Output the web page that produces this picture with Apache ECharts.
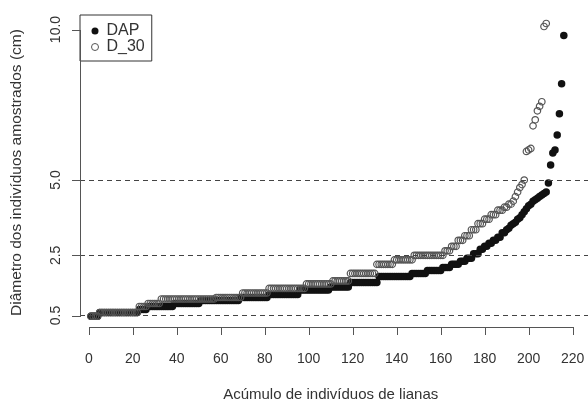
<!DOCTYPE html>
<html>
<head>
<meta charset="utf-8">
<script src="https://cdn.jsdelivr.net/npm/echarts@6/dist/echarts.min.js"></script>
<style>
html,body{margin:0;padding:0;background:#fff;}
#c{width:588px;height:403px;}
</style>
</head>
<body>
<div id="c"></div>
<script>
// ---- data ----
const xTicks = [0, 20, 40, 60, 80, 100, 120, 140, 160, 180, 200, 220];
const yTicks = [0.5, 2.5, 5.0, 10.0];
const yTickLabels = ["0.5", "2.5", "5.0", "10.0"];
const refLines = [0.5, 2.5, 5.0];
const seriesNames = ["DAP", "D_30"];
const xTitle = 'Acúmulo de indivíduos de lianas';
const yTitle = 'Diâmetro dos indivíduos amostrados (cm)';

// DAP: sorted diameters, individual 1..216
const dap = [
  0.48,0.48,0.48,0.48,
  0.6,0.6,0.6,0.6,0.6,0.6,0.6,0.6,0.6,0.6,0.6,0.6,0.6,0.6,0.6,0.6,0.6,0.6,
  0.7,0.7,0.7,0.7,
  0.8,0.8,0.8,0.8,0.8,0.8,0.8,0.8,0.8,0.8,0.8,0.8,
  0.9,0.9,0.9,0.9,0.9,0.9,0.9,0.9,0.9,0.9,0.9,0.9,
  1.0,1.0,1.0,1.0,1.0,1.0,1.0,1.0,1.0,1.0,1.0,1.0,1.0,1.0,1.0,1.0,1.0,1.0,
  1.1,1.1,1.1,1.1,1.1,1.1,1.1,1.1,1.1,1.1,1.1,1.1,1.1,
  1.2,1.2,1.2,1.2,1.2,1.2,1.2,1.2,1.2,1.2,1.2,1.2,1.2,1.2,
  1.35,1.35,1.35,1.35,1.35,1.35,1.35,1.35,1.35,1.35,1.35,1.35,1.35,1.35,
  1.45,1.45,1.45,1.45,1.45,1.45,1.45,1.45,1.45,
  1.6,1.6,1.6,1.6,1.6,1.6,1.6,1.6,1.6,1.6,1.6,1.6,1.6,
  1.8,1.8,1.8,1.8,1.8,1.8,1.8,1.8,1.8,1.8,1.8,1.8,1.8,1.8,1.8,
  1.9,1.9,1.9,1.9,1.9,1.9,1.9,
  2.0,2.0,2.0,2.0,2.0,2.0,2.0,
  2.1,2.1,2.1,2.1,
  2.2,2.2,2.2,2.2,
  2.3,2.3,2.3,
  2.4,2.4,2.4,
  2.55,2.55,2.55,
  2.7,2.7,
  2.8,2.8,
  2.9,2.9,
  3.0,3.0,
  3.1,3.1,
  3.25,3.25,
  3.35,3.4,3.5,3.55,3.6,3.7,3.75,3.85,3.95,4.05,4.15,4.2,4.3,4.35,4.4,4.45,4.5,4.55,4.6,
  4.9,5.5,5.9,6.0,6.5,7.2,8.2,9.8
];

// D_30: sorted diameters at 30 cm, individual 1..208
const d30 = [
  0.48,0.48,0.48,0.48,
  0.6,0.6,0.6,0.6,0.6,0.6,0.6,0.6,0.6,0.6,0.6,0.6,0.6,0.6,0.6,0.6,0.6,0.6,
  0.8,0.8,0.8,0.8,
  0.9,0.9,0.9,0.9,0.9,0.9,
  1.05,1.05,1.05,1.05,1.05,1.05,1.05,1.05,1.05,1.05,1.05,1.05,1.05,1.05,1.05,1.05,1.05,1.05,1.05,1.05,1.05,1.05,1.05,1.05,1.05,
  1.1,1.1,1.1,1.1,1.1,1.1,1.1,1.1,1.1,1.1,1.1,1.1,
  1.25,1.25,1.25,1.25,1.25,1.25,1.25,1.25,1.25,1.25,1.25,1.25,
  1.4,1.4,1.4,1.4,1.4,1.4,1.4,1.4,1.4,1.4,1.4,1.4,1.4,1.4,1.4,1.4,1.4,
  1.55,1.55,1.55,1.55,1.55,1.55,1.55,1.55,1.55,1.55,1.55,1.55,
  1.65,1.65,1.65,1.65,1.65,1.65,1.65,1.65,
  1.9,1.9,1.9,1.9,1.9,1.9,1.9,1.9,1.9,1.9,1.9,1.9,
  2.2,2.2,2.2,2.2,2.2,2.2,2.2,2.2,
  2.35,2.35,2.35,2.35,2.35,2.35,2.35,2.35,2.35,
  2.5,2.5,2.5,2.5,2.5,2.5,2.5,2.5,2.5,2.5,2.5,2.5,2.5,2.5,
  2.65,2.65,2.65,
  2.8,2.8,2.8,
  3.0,3.0,3.0,
  3.15,3.15,3.15,
  3.35,3.35,3.35,
  3.55,3.55,3.55,
  3.7,3.7,3.7,
  3.85,3.85,3.85,
  4.0,4.0,4.0,
  4.1,4.1,
  4.2,4.2,
  4.3,4.45,4.6,4.75,
  4.85,5.0,5.95,6.0,6.05,6.8,7.0,7.3,7.45,7.6,10.1,10.2
];

// ---- chart ----
const X_MIN = -4, X_MAX = 227, Y_MIN = 0.12, Y_MAX = 10.98;
const W = 588, H = 403, GL = 80, GB = 76;
const pxX = (W - GL) / (X_MAX - X_MIN);
const pxY = (H - GB) / (Y_MAX - Y_MIN);
const txt = '#333';
const axisCol = '#555';
const font = 'Liberation Sans, Arial, Helvetica, sans-serif';

const toPts = arr => arr.map((v, i) => [i + 1, v]);

// secondary grids only carry the tick labels (R style: first..last tick)
const xGridLeft = GL + (xTicks[0] - X_MIN) * pxX;
const xGridWidth = (xTicks[xTicks.length - 1] - xTicks[0]) * pxX;
const yGridTop = (Y_MAX - yTicks[yTicks.length - 1]) * pxY;
const yGridHeight = (yTicks[yTicks.length - 1] - yTicks[0]) * pxY;

const chart = echarts.init(document.getElementById('c'), null, {renderer: 'canvas'});
chart.setOption({
  animation: false,
  backgroundColor: '#fff',
  grid: [
    {left: GL, right: 0, top: 0, bottom: GB, outerBoundsMode: 'none'},
    {left: xGridLeft, width: xGridWidth, bottom: GB, height: 20, outerBoundsMode: 'none'},
    {left: GL, width: 20, top: yGridTop, height: yGridHeight, outerBoundsMode: 'none'}
  ],
  legend: {
    left: 80, top: 15, orient: 'vertical',
    borderColor: '#333', borderWidth: 1,
    padding: [8, 7, 6, 11],
    itemGap: 0, itemWidth: 13, itemHeight: 7,
    textStyle: {fontSize: 16, color: txt, fontFamily: font},
    data: [
      {name: seriesNames[0], icon: 'circle', itemStyle: {color: '#111', borderWidth: 0, opacity: 1}},
      {name: seriesNames[1], icon: 'circle', itemStyle: {color: 'rgba(255,255,255,0)', borderColor: '#555', borderWidth: 1, opacity: 1}}
    ]
  },
  xAxis: [
    {gridIndex: 0, type: 'value', min: X_MIN, max: X_MAX, show: false},
    {
      gridIndex: 1, type: 'value', min: xTicks[0], max: xTicks[xTicks.length - 1], interval: 20,
      axisLine: {show: false},
      splitLine: {show: false},
      axisTick: {show: false},
      axisLabel: {show: true, margin: 25, fontSize: 14, color: txt, fontFamily: font}
    },
    {gridIndex: 2, type: 'value', min: 0, max: 1, show: false}
  ],
  yAxis: [
    {gridIndex: 0, type: 'value', min: Y_MIN, max: Y_MAX, show: false},
    {gridIndex: 1, type: 'value', min: 0, max: 1, show: false},
    {
      gridIndex: 2, type: 'value', min: yTicks[0], max: yTicks[yTicks.length - 1],
      axisLine: {show: false},
      splitLine: {show: false},
      axisTick: {show: false},
      axisLabel: {
        show: true, customValues: yTicks, rotate: 90, margin: 17, fontSize: 14, color: txt, fontFamily: font,
        formatter: v => { const k = yTicks.indexOf(v); return k >= 0 ? yTickLabels[k] : ''; }
      }
    }
  ],
  series: [
    {
      name: seriesNames[0], type: 'scatter', symbol: 'circle', symbolSize: 7.5,
      xAxisIndex: 0, yAxisIndex: 0,
      itemStyle: {color: '#111', opacity: 1},
      data: toPts(dap),
      markLine: {
        silent: true, symbol: 'none', label: {show: false},
        lineStyle: {color: '#444', width: 1, type: [5, 4]},
        data: refLines.map(v => ({yAxis: v}))
      }
    },
    {
      name: seriesNames[1], type: 'scatter', symbol: 'circle', symbolSize: 6.5,
      xAxisIndex: 0, yAxisIndex: 0,
      itemStyle: {color: 'rgba(255,255,255,0)', borderColor: '#555', borderWidth: 1.2, opacity: 1},
      data: toPts(d30)
    }
  ]
});

// R-style axis lines and ticks, placed through the chart's own scales
const g = {gridIndex: 0};
const toPx = (x, y) => chart.convertToPixel(g, [x, y]);
const els = [];
const xa0 = Math.round(toPx(xTicks[0], Y_MIN)[0]);
const xa1 = Math.round(toPx(xTicks[xTicks.length - 1], Y_MIN)[0]);
const yAxisRow = Math.round(toPx(X_MIN, Y_MIN)[1]);
els.push({type: 'rect', silent: true, z: 10, shape: {x: xa0, y: yAxisRow, width: xa1 - xa0 + 1, height: 1}, style: {fill: axisCol}});
xTicks.forEach(t => {
  const px = Math.round(toPx(t, Y_MIN)[0]);
  els.push({type: 'rect', silent: true, z: 10, shape: {x: px, y: yAxisRow, width: 1, height: 8}, style: {fill: axisCol}});
});
const yAxisCol = Math.round(toPx(X_MIN, Y_MIN)[0]);
const ya0 = Math.round(toPx(X_MIN, yTicks[yTicks.length - 1])[1]);
const ya1 = Math.round(toPx(X_MIN, yTicks[0])[1]);
els.push({type: 'rect', silent: true, z: 10, shape: {x: yAxisCol, y: ya0, width: 1, height: ya1 - ya0 + 1}, style: {fill: axisCol}});
yTicks.forEach(t => {
  const py = Math.round(toPx(X_MIN, t)[1]);
  els.push({type: 'rect', silent: true, z: 10, shape: {x: yAxisCol - 8, y: py, width: 9, height: 1}, style: {fill: axisCol}});
});
els.push({
  type: 'text', silent: true,
  x: xGridLeft + xGridWidth / 2, y: H - GB + 68,
  style: {text: xTitle, fontSize: 15, fill: txt, fontFamily: font, align: 'center', verticalAlign: 'middle'}
});
els.push({
  type: 'text', silent: true, rotation: Math.PI / 2,
  x: 17, y: yGridTop + yGridHeight / 2,
  style: {text: yTitle, fontSize: 15.5, fill: txt, fontFamily: font, align: 'center', verticalAlign: 'middle'}
});
chart.setOption({graphic: els});
</script>
</body>
</html>
